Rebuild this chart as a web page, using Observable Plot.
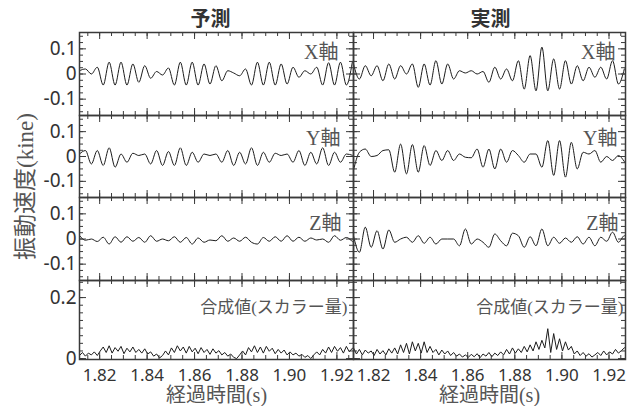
<!DOCTYPE html>
<html><head><meta charset="utf-8">
<script src="https://cdn.jsdelivr.net/npm/d3@7"></script>
<script src="https://cdn.jsdelivr.net/npm/@observablehq/plot@0.6"></script>
<style>
body{margin:0;background:#fff;}
#chart{position:relative;width:637px;height:406px;overflow:hidden;background:#fff;}
#chart svg{position:absolute;left:0;top:0;}
</style></head><body><div id="chart"></div>
<script>
// ---- categories / labels ----
const columns = ["予測", "実測"];
const rows = ["X軸", "Y軸", "Z軸", "合成値(スカラー量)"];
const yTitle = "振動速度(kine)";
const xTitle = "経過時間(s)";
const xTicks = [1.82, 1.84, 1.86, 1.88, 1.90, 1.92];
const xTickLabels = ["1.82", "1.84", "1.86", "1.88", "1.90", "1.92"];
const yTicksComp = [-0.1, 0, 0.1];
const yTickLabelsComp = ["-0.1", "0", "0.1"];
const yTicksScalar = [0, 0.2];
const yTickLabelsScalar = ["0", "0.2"];

// ---- sampling of the series (seconds) ----
const tStart = 1.8115;
const stepComp = 0.0025;
const stepScalar = 0.00125;

// ---- series values (kine) ----
const predX = [0.013, 0.02, 0.0, 0.027, -0.044, 0.047, -0.044, 0.047, -0.044, 0.04, -0.033, 0.033, -0.017, 0.01, -0.004, 0.024, -0.044, 0.047, -0.044, 0.047, -0.044, 0.04, -0.04, 0.033, -0.027, 0.013, 0.004, -0.007, 0.02, -0.044, 0.047, -0.044, 0.047, -0.044, 0.04, -0.04, 0.027, -0.013, 0.013, 0.0, 0.027, -0.044, 0.045, -0.044, 0.047, -0.044, 0.047];
const realX = [0.04, -0.02, 0.033, -0.007, 0.033, -0.027, 0.04, -0.02, 0.033, 0.0, 0.04, -0.053, 0.04, -0.044, 0.053, -0.04, 0.04, -0.02, 0.013, 0.004, 0.013, 0.0, 0.01, -0.033, 0.027, -0.02, 0.02, -0.027, 0.053, -0.06, 0.073, -0.067, 0.107, -0.067, 0.06, -0.06, 0.053, -0.04, 0.033, -0.027, 0.027, -0.013, 0.027, -0.02, 0.053, -0.04, 0.02];
const predY = [0.01, 0.024, -0.03, 0.024, -0.036, 0.035, -0.043, 0.01, -0.023, 0.013, 0.004, 0.01, -0.03, 0.024, -0.036, 0.02, -0.036, 0.035, -0.036, 0.017, -0.023, 0.01, 0.004, 0.01, -0.023, 0.024, -0.036, 0.017, -0.03, 0.035, -0.036, 0.017, -0.023, 0.013, 0.004, 0.01, -0.023, 0.024, -0.036, 0.017, -0.03, 0.035, -0.036, 0.017, -0.023, 0.01, 0.005];
const realY = [-0.055, 0.017, 0.03, 0.0, 0.004, 0.024, 0.027, -0.063, 0.05, -0.07, 0.048, -0.063, 0.044, -0.036, 0.024, -0.016, 0.024, -0.016, 0.01, -0.003, -0.005, 0.03, -0.043, 0.03, -0.05, 0.03, -0.023, 0.024, 0.004, -0.023, 0.01, 0.01, -0.043, 0.064, -0.076, 0.064, -0.083, 0.057, -0.05, 0.017, 0.01, 0.024, -0.023, 0.0, -0.016, 0.004, -0.02, -0.056];
const predZ = [0.014, -0.005, 0.0, -0.01, 0.007, -0.02, 0.009, -0.013, 0.009, -0.009, 0.006, -0.013, 0.013, -0.009, 0.0, -0.007, 0.009, -0.013, 0.006, -0.02, 0.004, -0.013, -0.004, -0.007, 0.013, -0.009, 0.004, -0.009, 0.007, -0.013, -0.02, 0.006, -0.009, 0.009, -0.009, 0.013, -0.009, 0.007, -0.009, 0.004, -0.004, 0.0, -0.013, 0.013, -0.005, 0.006, -0.01];
const realZ = [0.013, -0.053, 0.047, -0.033, 0.033, -0.04, 0.036, -0.013, 0.0, 0.007, -0.013, 0.013, -0.017, 0.007, -0.02, 0.0, 0.0, 0.0, -0.027, 0.04, -0.02, 0.0, -0.013, -0.033, 0.02, -0.007, -0.027, 0.023, 0.013, -0.033, 0.009, -0.027, 0.04, -0.027, 0.007, -0.017, 0.004, -0.013, 0.009, -0.02, 0.007, -0.027, 0.007, -0.009, 0.027, -0.013, 0.013, -0.027];
const predScalar = [0.01, 0.02, 0.008, 0.018, 0.012, 0.022, 0.01, 0.025,
  0.038, 0.02, 0.042, 0.018, 0.036, 0.024, 0.04, 0.016, 0.034, 0.022, 0.038, 0.02, 0.03, 0.018, 0.032, 0.015,
  0.022, 0.008, 0.015, 0.002, 0.01,
  0.025, 0.012,
  0.035, 0.02, 0.042, 0.025, 0.038, 0.018, 0.04, 0.022, 0.034, 0.016, 0.036, 0.02, 0.03, 0.014, 0.032, 0.018, 0.026, 0.012, 0.02,
  0.008, 0.015, 0.004, 0.0, 0.012,
  0.025, 0.012, 0.036, 0.022, 0.042, 0.02, 0.038, 0.018, 0.04, 0.024, 0.034, 0.016, 0.03, 0.018, 0.028, 0.012, 0.022,
  0.012, 0.018, 0.008, 0.014, 0.004, 0.01, 0.0, 0.012,
  0.022, 0.012, 0.03, 0.018, 0.038, 0.02, 0.04, 0.024, 0.036, 0.018, 0.04, 0.022, 0.034, 0.03];
const realScalar = [0.035, 0.015, 0.03, 0.012, 0.028, 0.018, 0.025, 0.01, 0.03, 0.015, 0.026, 0.012, 0.032, 0.018, 0.035, 0.015,
  0.045, 0.02, 0.05, 0.015, 0.055, 0.025, 0.05, 0.018, 0.055, 0.02, 0.04,
  0.02, 0.03, 0.012, 0.028, 0.015, 0.025, 0.01, 0.02, 0.008,
  0.015, 0.005, 0.012, 0.004, 0.014, 0.006, 0.016, 0.003, 0.015, 0.008, 0.02, 0.006, 0.018, 0.01, 0.022,
  0.012, 0.03, 0.015, 0.035, 0.018, 0.032, 0.02, 0.04,
  0.022, 0.045, 0.025, 0.055, 0.03,
  0.06, 0.035, 0.098, 0.02, 0.082, 0.03, 0.065, 0.025, 0.055,
  0.028, 0.04, 0.015, 0.025, 0.01, 0.02, 0.008, 0.016, 0.005, 0.012,
  0.02, 0.01, 0.025, 0.012, 0.022, 0.015, 0.03, 0.018, 0.026, 0.035, 0.04];

const seriesByPanel = [[predX, realX], [predY, realY], [predZ, realZ], [predScalar, realScalar]];

// ---- layout (pixels) ----
const W = 637, H = 406;
const colEdges = [79, 353, 625];
const rowEdges = [32, 115, 197, 280, 359];
const labelInset = [[15, 10], [13, 8], [12, 7], [6, 2]];
const labelDy = [20, 23, 26, 27];
const ink = "#3a3a3a";
const serifJP = "'Liberation Serif','Noto Sans CJK JP',serif";
const sansJP = "'Noto Sans CJK JP','Noto Sans',sans-serif";

const xDomain = [1.8115, 1.927];
const xMinor = d3.range(363, 386).map(k => k * 0.005);
const yDomainComp = [-0.165, 0.165];
const yDomainScalar = [-0.003, 0.256];
const yMinorComp = d3.range(-6, 7).map(k => k * 0.025);
const yMinorScalar = d3.range(0, 11).map(k => k * 0.025);

function panel(r, c) {
  const isScalar = r === 3;
  const step = isScalar ? stepScalar : stepComp;
  const data = seriesByPanel[r][c].map((v, i) => ({t: tStart + i * step, v}));
  const x0 = colEdges[c], x1 = colEdges[c + 1];
  const y0 = rowEdges[r], y1 = rowEdges[r + 1];
  const pw = x1 - x0, ph = y1 - y0;
  const yTicks = isScalar ? yTicksScalar : yTicksComp;
  const yLabels = isScalar ? yTickLabelsScalar : yTickLabelsComp;
  const yMinor = isScalar ? yMinorScalar : yMinorComp;
  const marks = [
    Plot.line(data, {x: "t", y: "v", stroke: "#1c1c1c", strokeWidth: 1, curve: isScalar ? "linear" : "monotone-x", clip: true}),
    Plot.frame({stroke: ink, strokeWidth: 1.5}),
    Plot.tickX(xMinor, {x: d => d, insetBottom: ph - 4, stroke: ink}),
    Plot.tickX(xMinor, {x: d => d, insetTop: ph - 4, stroke: ink}),
    Plot.tickX(xTicks, {x: d => d, insetBottom: ph - 7, stroke: ink}),
    Plot.tickX(xTicks, {x: d => d, insetTop: ph - 7, stroke: ink}),
    Plot.tickY(yMinor, {y: d => d, insetRight: pw - 4, stroke: ink}),
    Plot.tickY(yMinor, {y: d => d, insetLeft: pw - 4, stroke: ink}),
    Plot.tickY(yTicks, {y: d => d, insetRight: pw - 7, stroke: ink}),
    Plot.tickY(yTicks, {y: d => d, insetLeft: pw - 7, stroke: ink}),
    Plot.text([rows[r]], {text: d => d, frameAnchor: "top-right", textAnchor: "end", lineAnchor: "middle",
      dx: -labelInset[r][c], dy: labelDy[r], fontSize: isScalar ? 17 : 20, fill: "#555", fontFamily: serifJP})
  ];
  if (c === 0) {
    marks.push(Plot.text(yTicks, {y: d => d, text: (d, i) => yLabels[i], frameAnchor: "left", textAnchor: "end",
      dx: -3, fontSize: 19, fill: "#333", fontFamily: "'Noto Sans',sans-serif"}));
  }
  if (isScalar) {
    marks.push(Plot.text(xTicks, {x: d => d, text: (d, i) => xTickLabels[i], frameAnchor: "bottom", lineAnchor: "middle",
      dy: 16, fontSize: 17, fill: "#333", fontFamily: "'Noto Sans',sans-serif"}));
    marks.push(Plot.text([xTitle], {text: d => d, frameAnchor: "bottom", lineAnchor: "middle", dy: 36,
      fontSize: 20, fill: "#555", fontFamily: serifJP}));
  }
  if (r === 0) {
    marks.push(Plot.text([columns[c]], {text: d => d, frameAnchor: "top", lineAnchor: "middle", dy: -13, dx: c === 0 ? -6 : 1,
      fontSize: 20, fontWeight: "bold", fill: "#333", fontFamily: sansJP}));
  }
  if (r === 1 && c === 0) {
    marks.push(Plot.text([yTitle], {text: d => d, frameAnchor: "left", rotate: -90, lineAnchor: "middle", textAnchor: "middle",
      dx: -54, dy: 30, fontSize: 23, fill: "#555", fontFamily: serifJP}));
  }
  return Plot.plot({
    width: W, height: H,
    marginLeft: x0, marginRight: W - x1, marginTop: y0, marginBottom: H - y1,
    x: {domain: xDomain, axis: null},
    y: {domain: isScalar ? yDomainScalar : yDomainComp, axis: null},
    style: {background: "transparent", overflow: "visible", fontFamily: "'Noto Sans',sans-serif"},
    marks
  });
}

const chart = document.getElementById("chart");
for (let r = 0; r < rows.length; r++) {
  for (let c = 0; c < columns.length; c++) {
    chart.appendChild(panel(r, c));
  }
}
</script></body></html>
